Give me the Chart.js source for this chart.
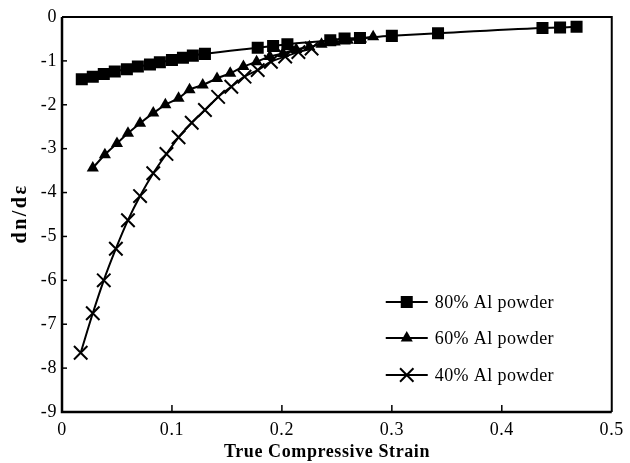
<!DOCTYPE html>
<html><head><meta charset="utf-8">
<script src="https://cdn.jsdelivr.net/npm/chart.js@4.4.1/dist/chart.umd.min.js"></script>
<style>html,body{margin:0;padding:0;background:#fff}#wrap{width:630px;height:463px}</style>
</head><body><div id="wrap"><canvas id="c" width="630" height="463"></canvas></div>
<script>
// ---- data ----
const xTickValues = [0, 0.1, 0.2, 0.3, 0.4, 0.5];
const yTickValues = [0, -1, -2, -3, -4, -5, -6, -7, -8, -9];
const seriesNames = ['80% Al powder', '60% Al powder', '40% Al powder'];

const x80 = [0.018,0.028,0.038,0.048,0.059,0.069,0.080,0.089,0.100,0.110,0.119,0.130,0.178,0.192,0.205,0.244,0.257,0.271,0.300,0.342,0.437,0.453,0.468];
const y80 = [-1.42,-1.36,-1.30,-1.24,-1.19,-1.13,-1.08,-1.03,-0.98,-0.93,-0.88,-0.84,-0.70,-0.66,-0.62,-0.53,-0.49,-0.48,-0.43,-0.37,-0.25,-0.24,-0.22];

const x60 = [0.028,0.039,0.050,0.060,0.071,0.083,0.094,0.106,0.116,0.128,0.141,0.153,0.165,0.177,0.189,0.201,0.213,0.225,0.236,0.248,0.260,0.272,0.283];
const y60 = [-3.44,-3.14,-2.88,-2.65,-2.42,-2.19,-2.00,-1.85,-1.66,-1.55,-1.40,-1.28,-1.13,-1.02,-0.90,-0.83,-0.74,-0.68,-0.62,-0.57,-0.53,-0.50,-0.45];

const x40 = [0.017,0.028,0.038,0.049,0.060,0.071,0.083,0.095,0.106,0.118,0.130,0.142,0.154,0.166,0.178,0.190,0.203,0.215,0.227];
const y40 = [-7.65,-6.75,-6.00,-5.28,-4.63,-4.08,-3.56,-3.12,-2.74,-2.41,-2.12,-1.82,-1.59,-1.36,-1.21,-1.02,-0.90,-0.80,-0.72];

const xTitle = 'True Compressive Strain';
const yTitle = 'dn/d\u03B5';

// ---- build ----
const pts = (xs, ys) => xs.map((x, i) => ({x, y: ys[i]}));
const FONT = '"Liberation Serif", "Times New Roman", serif';

const datasets = [
  {label: seriesNames[0], data: pts(x80, y80), pointStyle: 'rect', pointRadius: 8.5, pointBorderWidth: 0},
  {label: seriesNames[1], data: pts(x60, y60), pointStyle: 'triangle', pointRadius: 7, pointBorderWidth: 0},
  {label: seriesNames[2], data: pts(x40, y40), pointStyle: 'crossRot', pointRadius: 9.5, pointBorderWidth: 2}
].map(d => Object.assign({
  showLine: true, borderColor: '#000', backgroundColor: '#000', borderWidth: 2,
  pointBackgroundColor: '#000', pointBorderColor: '#000', tension: 0.25, cubicInterpolationMode: 'monotone'
}, d));

const framePlugin = {
  id: 'frame',
  beforeDraw(chart) { chart.ctx.letterSpacing = '0.6px'; },
  afterDraw(chart) {
    const {ctx, chartArea: a, scales} = chart;
    ctx.save();
    ctx.strokeStyle = '#000';
    ctx.lineWidth = 2;
    ctx.beginPath();
    ctx.moveTo(a.left, a.top); ctx.lineTo(a.right, a.top); ctx.lineTo(a.right, a.bottom);
    ctx.stroke();
    ctx.lineWidth = 2.5;
    ctx.beginPath();
    ctx.moveTo(a.left, a.top); ctx.lineTo(a.left, a.bottom); ctx.lineTo(a.right, a.bottom);
    ctx.stroke();
    ctx.lineWidth = 1.5;
    scales.x.ticks.forEach(t => {
      const px = scales.x.getPixelForValue(t.value);
      if (px <= a.left + 1 || px >= a.right - 1) return;
      ctx.beginPath(); ctx.moveTo(px, a.bottom); ctx.lineTo(px, a.bottom - 7); ctx.stroke();
    });
    scales.y.ticks.forEach(t => {
      const py = scales.y.getPixelForValue(t.value);
      if (py <= a.top + 1 || py >= a.bottom - 1) return;
      ctx.beginPath(); ctx.moveTo(a.left, py); ctx.lineTo(a.left + 5, py); ctx.stroke();
    });
    ctx.fillStyle = '#000';
    // x axis title
    ctx.font = 'bold 18px ' + FONT;
    ctx.letterSpacing = '0.6px';
    ctx.textAlign = 'center';
    ctx.textBaseline = 'middle';
    ctx.fillText(xTitle, 327, 452);
    // y axis title
    ctx.save();
    ctx.translate(21, (a.top + a.bottom) / 2);
    ctx.rotate(-Math.PI / 2);
    ctx.font = 'bold 20px ' + FONT;
    ctx.letterSpacing = '2.5px';
    ctx.fillText(yTitle, 1, 0);
    ctx.restore();
    // legend
    const lx = a.right - 226, rows = [a.top + 285, a.top + 321, a.top + 358];
    ctx.font = '18px ' + FONT;
    ctx.letterSpacing = '0.4px';
    ctx.textAlign = 'left';
    ctx.textBaseline = 'middle';
    chart.data.datasets.forEach((d, i) => {
      const y = rows[i];
      ctx.fillStyle = '#000';
      ctx.lineWidth = 2;
      ctx.beginPath(); ctx.moveTo(lx, y); ctx.lineTo(lx + 42, y); ctx.stroke();
      ctx.lineWidth = d.pointBorderWidth || 1;
      Chart.helpers.drawPoint(ctx, {pointStyle: d.pointStyle, radius: d.pointRadius, borderWidth: d.pointBorderWidth, rotation: 0}, lx + 21, y);
      ctx.fillStyle = '#000';
      ctx.fillText(d.label, lx + 49, y + 1);
    });
    ctx.restore();
  }
};

new Chart(document.getElementById('c'), {
  type: 'scatter',
  data: {datasets},
  options: {
    responsive: false, animation: false, devicePixelRatio: 1,
    layout: {padding: {left: 0, right: 18, top: 17, bottom: 0}},
    plugins: {legend: {display: false}, tooltip: {enabled: false}},
    scales: {
      x: {
        type: 'linear', min: 0, max: 0.5,
        afterBuildTicks: s => { s.ticks = xTickValues.map(v => ({value: v})); },
        afterFit: s => { s.height = 51; },
        grid: {display: false, drawTicks: false},
        border: {display: false},
        ticks: {color: '#000', font: {family: FONT, size: 18}, padding: 7, maxRotation: 0,
          callback: v => String(Number(v.toFixed(1)))},
        title: {display: false, text: xTitle}
      },
      y: {
        type: 'linear', min: -9, max: 0,
        afterBuildTicks: s => { s.ticks = yTickValues.map(v => ({value: v})); },
        afterFit: s => { s.width = 62; },
        grid: {display: false, drawTicks: false},
        border: {display: false},
        ticks: {color: '#000', font: {family: FONT, size: 18}, padding: 5,
          callback: v => String(v)},
        title: {display: false, text: yTitle}
      }
    }
  },
  plugins: [framePlugin]
});
</script></body></html>
